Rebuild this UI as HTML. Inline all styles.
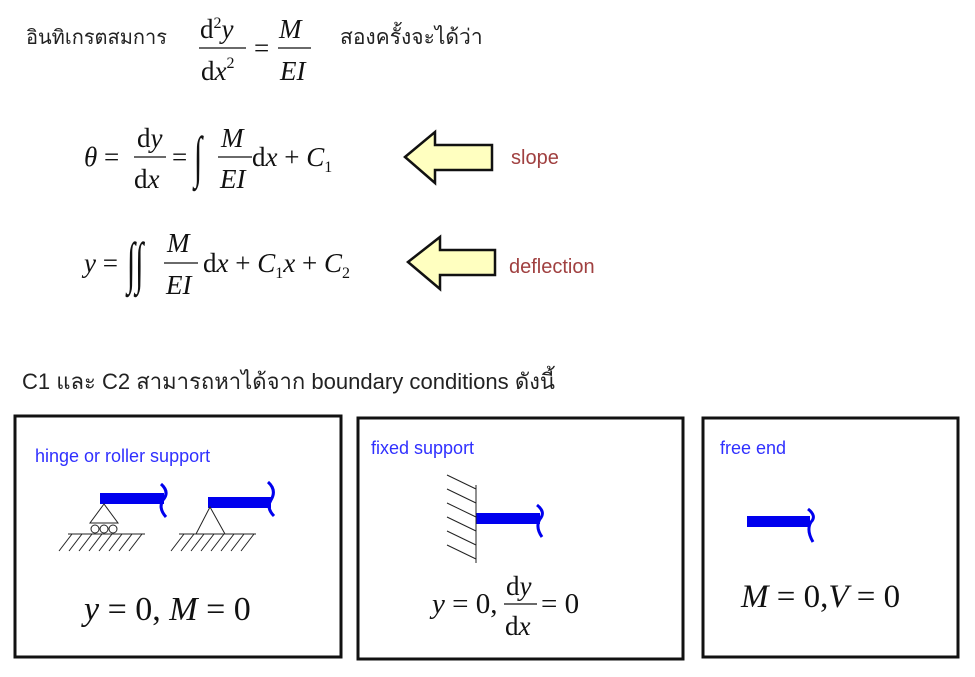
<!DOCTYPE html>
<html><head><meta charset="utf-8"><style>
body{margin:0;background:#fff;width:975px;height:677px;overflow:hidden}
svg{display:block}
.s{font-family:"Liberation Serif",serif;font-size:27px;fill:#111}
.i{font-style:italic}
.th{font-family:"Liberation Sans","Noto Sans CJK SC",sans-serif;font-size:19px;fill:#222}
.bl{font-family:"Liberation Sans",sans-serif;font-size:17px;fill:#3030ff}
.rd{font-family:"Liberation Sans",sans-serif;font-size:20px;fill:#a04040}
</style></head><body>
<svg width="975" height="677" viewBox="0 0 975 677" xmlns="http://www.w3.org/2000/svg">
<text x="26" y="44" class="th" style="font-size:20px">อินทิเกรตสมการ</text>
<text x="200" y="38" class="s">d<tspan style="font-size:16px" dy="-10">2</tspan><tspan class="i" dy="10">y</tspan></text>
<line x1="199" y1="48" x2="246" y2="48" stroke="#111" stroke-width="1.3"/>
<text x="201" y="80" class="s">d<tspan class="i">x</tspan><tspan style="font-size:16px" dy="-12">2</tspan></text>
<text x="254" y="57" class="s">=</text>
<text x="279" y="38" class="s i">M</text>
<line x1="278" y1="48" x2="311" y2="48" stroke="#111" stroke-width="1.3"/>
<text x="280" y="80" class="s i">EI</text>
<text x="340" y="44" class="th" style="font-size:21px">สองครั้งจะได้ว่า</text>

<text x="84" y="166" class="s"><tspan class="i">θ</tspan> =</text>
<text x="137" y="147" class="s">d<tspan class="i">y</tspan></text>
<line x1="134" y1="157" x2="166" y2="157" stroke="#111" stroke-width="1.3"/>
<text x="134" y="188" class="s">d<tspan class="i">x</tspan></text>
<text x="172" y="166" class="s">=</text>
<text class="s" style="font-size:30px" transform="translate(194,176) scale(1,1.9)">∫</text>
<text x="221" y="147" class="s i">M</text>
<line x1="218" y1="157" x2="252" y2="157" stroke="#111" stroke-width="1.3"/>
<text x="220" y="188" class="s i">EI</text>
<text x="252" y="166" class="s">d<tspan class="i">x</tspan> + <tspan class="i">C</tspan><tspan style="font-size:16px" dy="6">1</tspan></text>

<text x="84" y="272" class="s"><tspan class="i">y</tspan> =</text>
<text class="s" style="font-size:30px" transform="translate(127,282) scale(1,1.9)">∫∫</text>
<text x="167" y="252" class="s i">M</text>
<line x1="164" y1="263" x2="198" y2="263" stroke="#111" stroke-width="1.3"/>
<text x="166" y="294" class="s i">EI</text>
<text x="203" y="272" class="s">d<tspan class="i">x</tspan> + <tspan class="i">C</tspan><tspan style="font-size:16px" dy="6">1</tspan><tspan class="i" dy="-6">x</tspan> + <tspan class="i">C</tspan><tspan style="font-size:16px" dy="6">2</tspan></text>

<polygon points="405,157 435,132 435,145 492,145 492,170 435,170 435,183" fill="#ffffc0" stroke="#111" stroke-width="2.5"/>
<polygon points="408,262 440,237 440,250 495,250 495,275 440,275 440,289" fill="#ffffc0" stroke="#111" stroke-width="2.5"/>
<text x="511" y="164" class="rd">slope</text>
<text x="509" y="273" class="rd">deflection</text>

<text x="22" y="389" class="th" style="font-size:22px" textLength="533" lengthAdjust="spacingAndGlyphs">C1 และ C2 สามารถหาได้จาก boundary conditions ดังนี้</text>

<rect x="15" y="416" width="326" height="241" fill="none" stroke="#111" stroke-width="3"/>
<rect x="358" y="418" width="325" height="241" fill="none" stroke="#111" stroke-width="3"/>
<rect x="703" y="418" width="255" height="239" fill="none" stroke="#111" stroke-width="3"/>

<text x="35" y="462" class="bl" style="font-size:18px">hinge or roller support</text>
<text x="371" y="454" class="bl" style="font-size:18px">fixed support</text>
<text x="720" y="454" class="bl" style="font-size:18px">free end</text>

<g fill="#0000ee" stroke="#0000ee">
<rect x="100" y="493" width="64" height="11" stroke="none"/>
<path d="M161,484 Q170,492 163,500 Q158,508 166,517" fill="none" stroke-width="3"/>
<rect x="208" y="497" width="63" height="11" stroke="none"/>
<path d="M268,482 Q277,490 271,500 Q266,508 274,516" fill="none" stroke-width="3"/>
<rect x="476" y="513" width="64" height="11" stroke="none"/>
<path d="M537,505 Q546,512 540,519 Q535,527 542,537" fill="none" stroke-width="3"/>
<rect x="747" y="516" width="63" height="11" stroke="none"/>
<path d="M808,509 Q817,516 811,522 Q806,530 813,542" fill="none" stroke-width="3"/>
</g>
<g stroke="#222" stroke-width="1" fill="none">
<polygon points="104,504 90,523 118,523"/>
<circle cx="95" cy="529" r="4"/><circle cx="104" cy="529" r="4"/><circle cx="113" cy="529" r="4"/>
<line x1="68" y1="534" x2="145" y2="534"/>
<path d="M72,534 l-13,17 M82,534 l-13,17 M92,534 l-13,17 M102,534 l-13,17 M112,534 l-13,17 M122,534 l-13,17 M132,534 l-13,17 M142,534 l-13,17"/>
<polygon points="210,507 196,534 225,534"/>
<line x1="179" y1="534" x2="256" y2="534"/>
<path d="M184,534 l-13,17 M194,534 l-13,17 M204,534 l-13,17 M214,534 l-13,17 M224,534 l-13,17 M234,534 l-13,17 M244,534 l-13,17 M254,534 l-13,17"/>
<line x1="476" y1="485" x2="476" y2="563"/>
<path d="M447,475 l29,14 M447,489 l29,14 M447,503 l29,14 M447,517 l29,14 M447,531 l29,14 M447,545 l29,14"/>
</g>

<text x="84" y="620" class="s" style="font-size:34px"><tspan class="i">y</tspan> = 0, <tspan class="i">M</tspan> = 0</text>
<text x="432" y="613" class="s" style="font-size:29px"><tspan class="i">y</tspan> = 0,</text>
<text x="506" y="595" class="s">d<tspan class="i">y</tspan></text>
<line x1="504" y1="604" x2="537" y2="604" stroke="#111" stroke-width="1.3"/>
<text x="505" y="635" class="s">d<tspan class="i">x</tspan></text>
<text x="541" y="613" class="s" style="font-size:29px">= 0</text>
<text x="741" y="607" class="s" style="font-size:33px"><tspan class="i">M</tspan> = 0,<tspan class="i">V</tspan> = 0</text>
</svg>
</body></html>
